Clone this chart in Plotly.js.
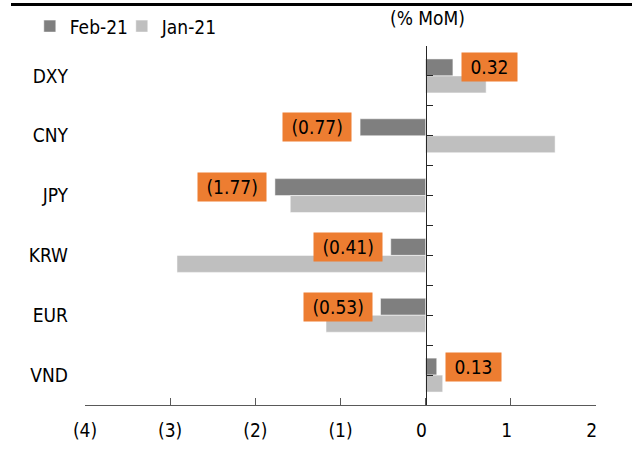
<!DOCTYPE html>
<html>
<head>
<meta charset="utf-8">
<script src="https://cdn.plot.ly/plotly-3.0.1.min.js"></script>
<style>html,body{margin:0;padding:0;background:#fff;}#chart{width:632px;height:450px;}</style>
</head>
<body>
<div id="chart"></div>
<script>
// ---- data ----
const categories = ["DXY", "CNY", "JPY", "KRW", "EUR", "VND"];
const feb21 = [0.32, -0.77, -1.77, -0.41, -0.53, 0.13];
const jan21 = [0.71, 1.52, -1.59, -2.92, -1.17, 0.20];
const seriesNames = ["Feb-21", "Jan-21"];
const xTickValues = [-4, -3, -2, -1, 0, 1, 2];
const unitLabel = "(% MoM)";

const FONT = "DejaVu Sans Condensed, DejaVu Sans, sans-serif";
const FS = 19;
const paren = (v, d) => v < 0 ? "(" + Math.abs(v).toFixed(d) + ")" : v.toFixed(d);
// accounting style: non-negative numbers keep room for the closing parenthesis
const tickFmt = v => v < 0 ? paren(v, 0) : paren(v, 0) + "\u2002";
const fmt = v => "\u00a0" + paren(v, 2) + "\u00a0";

const traces = [
  {type: "bar", orientation: "h", name: seriesNames[0], y: categories, x: feb21, legend: "legend",
   marker: {color: "#7f7f7f", line: {color: "rgba(255,255,255,0.5)", width: 1}}, hoverinfo: "x+name"},
  {type: "bar", orientation: "h", name: seriesNames[1], y: categories, x: jan21, legend: "legend2",
   marker: {color: "#bfbfbf", line: {color: "rgba(255,255,255,0.5)", width: 1}}, hoverinfo: "x+name"},
  // invisible helper so the zero-positioned category axis (ticks at x = 0) is drawn
  {type: "scatter", mode: "markers", x: feb21, y: categories.map((_, i) => i),
   yaxis: "y2", marker: {opacity: 0}, showlegend: false, hoverinfo: "skip"}
];

const annotations = feb21.map((v, i) => ({
  x: v, y: categories[i], xref: "x", yref: "y",
  text: fmt(v), showarrow: false,
  xanchor: v >= 0 ? "left" : "right",
  xshift: v >= 0 ? 8 : -8, yshift: 8.5,
  bgcolor: "#ED7D31", borderpad: 3,
  font: {family: FONT, size: FS, color: "#000"}
}));
annotations.push({
  text: unitLabel, xref: "paper", yref: "paper", x: 0.671, y: 1.078,
  showarrow: false, xanchor: "center", yanchor: "middle",
  font: {family: FONT, size: FS, color: "#000"}
});

const legendBase = {orientation: "h", y: 1.055, xanchor: "left", yanchor: "middle",
  font: {family: FONT, size: FS, color: "#000"}, bgcolor: "rgba(0,0,0,0)", itemwidth: 30};

const layout = {
  width: 632, height: 450,
  margin: {l: 85, r: 36, t: 46, b: 45, autoexpand: false},
  paper_bgcolor: "#fff", plot_bgcolor: "#fff",
  font: {family: FONT, size: FS, color: "#000"},
  barmode: "group", bargap: 0.433, bargroupgap: 0,
  showlegend: true,
  legend: Object.assign({}, legendBase, {x: -0.108}),
  legend2: Object.assign({}, legendBase, {x: 0.072}),
  xaxis: {range: [-4, 2], tickmode: "array", tickvals: xTickValues,
          ticktext: xTickValues.map(tickFmt),
          showline: true, linecolor: "#595959", linewidth: 1,
          ticks: "inside", ticklen: 7, tickcolor: "#595959",
          ticklabelstandoff: 8,
          showgrid: false, zeroline: false, fixedrange: true},
  yaxis: {type: "category", range: [5.5, -0.5], showline: false, showgrid: false,
          zeroline: false, ticks: "", ticklabelstandoff: 16, fixedrange: true},
  yaxis2: {overlaying: "y", anchor: "free", position: 4 / 6, side: "left",
           range: [5.5, -0.5], tick0: -0.5, dtick: 0.5,
           ticks: "inside", ticklen: 6, tickcolor: "#262626",
           showticklabels: false, showline: true, linecolor: "#262626", linewidth: 1,
           showgrid: false, zeroline: false, fixedrange: true},
  shapes: [{type: "line", xref: "paper", yref: "paper",
            x0: -0.1448, x1: 1.0705, y0: 1.1156, y1: 1.1156,
            line: {color: "#000", width: 3}}],
  annotations: annotations
};

Plotly.newPlot("chart", traces, layout, {displayModeBar: false, staticPlot: true});
</script>
</body>
</html>
